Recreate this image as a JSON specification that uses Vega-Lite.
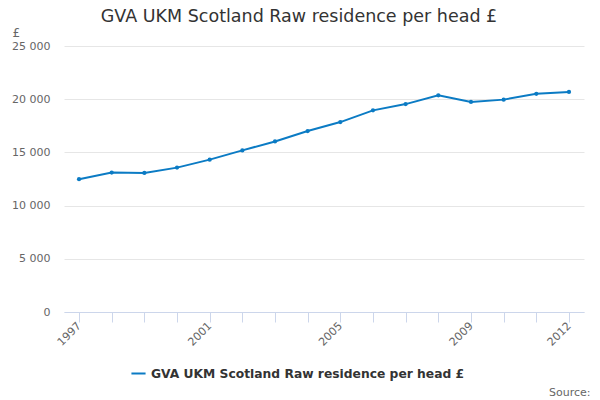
{
  "$schema": "https://vega.github.io/schema/vega-lite/v6.json",
  "width": 520,
  "height": 266,
  "autosize": "none",
  "padding": {"left": 64, "top": 46, "right": 16, "bottom": 88},
  "background": "white",
  "config": {
    "view": {"stroke": null},
    "font": "DejaVu Sans"
  },
  "title": {
    "text": "GVA UKM Scotland Raw residence per head £",
    "fontSize": 17.5,
    "fontWeight": "normal",
    "color": "#333333",
    "anchor": "middle",
    "dx": -25,
    "offset": 1
  },
  "data": {
    "values": [
      {"year": "1997", "value": 12480, "series": "GVA UKM Scotland Raw residence per head £"},
      {"year": "1998", "value": 13110, "series": "GVA UKM Scotland Raw residence per head £"},
      {"year": "1999", "value": 13070, "series": "GVA UKM Scotland Raw residence per head £"},
      {"year": "2000", "value": 13570, "series": "GVA UKM Scotland Raw residence per head £"},
      {"year": "2001", "value": 14320, "series": "GVA UKM Scotland Raw residence per head £"},
      {"year": "2002", "value": 15190, "series": "GVA UKM Scotland Raw residence per head £"},
      {"year": "2003", "value": 16030, "series": "GVA UKM Scotland Raw residence per head £"},
      {"year": "2004", "value": 17010, "series": "GVA UKM Scotland Raw residence per head £"},
      {"year": "2005", "value": 17850, "series": "GVA UKM Scotland Raw residence per head £"},
      {"year": "2006", "value": 18950, "series": "GVA UKM Scotland Raw residence per head £"},
      {"year": "2007", "value": 19540, "series": "GVA UKM Scotland Raw residence per head £"},
      {"year": "2008", "value": 20360, "series": "GVA UKM Scotland Raw residence per head £"},
      {"year": "2009", "value": 19740, "series": "GVA UKM Scotland Raw residence per head £"},
      {"year": "2010", "value": 19960, "series": "GVA UKM Scotland Raw residence per head £"},
      {"year": "2011", "value": 20510, "series": "GVA UKM Scotland Raw residence per head £"},
      {"year": "2012", "value": 20680, "series": "GVA UKM Scotland Raw residence per head £"}
    ]
  },
  "mark": {
    "type": "line",
    "strokeWidth": 2,
    "point": {"filled": true, "size": 18}
  },
  "encoding": {
    "x": {
      "field": "year",
      "type": "ordinal",
      "scale": {"type": "point", "padding": 0.46},
      "axis": {
        "title": "Source:",
        "titleFontSize": 11,
        "titleFontWeight": "normal",
        "titleColor": "#666666",
        "titleX": 526,
        "titleY": 74,
        "titleAlign": "right",
        "titleAnchor": null,
        "domainColor": "#ccd6eb",
        "tickColor": "#ccd6eb",
        "tickSize": 10,
        "labelAngle": -45,
        "labelAlign": "right",
        "labelBaseline": "middle",
        "labelColor": "#666666",
        "labelFontSize": 11,
        "labelPadding": 2,
        "labelExpr": "(datum.label == '1997' || datum.label == '2001' || datum.label == '2005' || datum.label == '2009' || datum.label == '2012') ? datum.label : ''"
      }
    },
    "y": {
      "field": "value",
      "type": "quantitative",
      "scale": {"domain": [0, 25000]},
      "axis": {
        "title": "£",
        "titleAngle": 0,
        "titleX": -52,
        "titleY": -14,
        "titleAlign": "left",
        "titleBaseline": "middle",
        "titleFontSize": 12,
        "titleFontWeight": "normal",
        "titleColor": "#666666",
        "values": [0, 5000, 10000, 15000, 20000, 25000],
        "labelExpr": "replace(format(datum.value, ',d'), ',', ' ')",
        "domain": false,
        "ticks": false,
        "labelPadding": 14,
        "labelColor": "#666666",
        "labelFontSize": 11,
        "gridColor": "#e6e6e6"
      }
    },
    "color": {
      "field": "series",
      "type": "nominal",
      "scale": {"range": ["#0b7bc4"]},
      "legend": {
        "title": null,
        "orient": "none",
        "legendX": 66,
        "legendY": 319,
        "symbolType": "stroke",
        "symbolStrokeWidth": 2,
        "symbolSize": 200,
        "labelFontSize": 12.3,
        "labelFontWeight": "bold",
        "labelColor": "#333333",
        "labelLimit": 500
      }
    }
  }
}
